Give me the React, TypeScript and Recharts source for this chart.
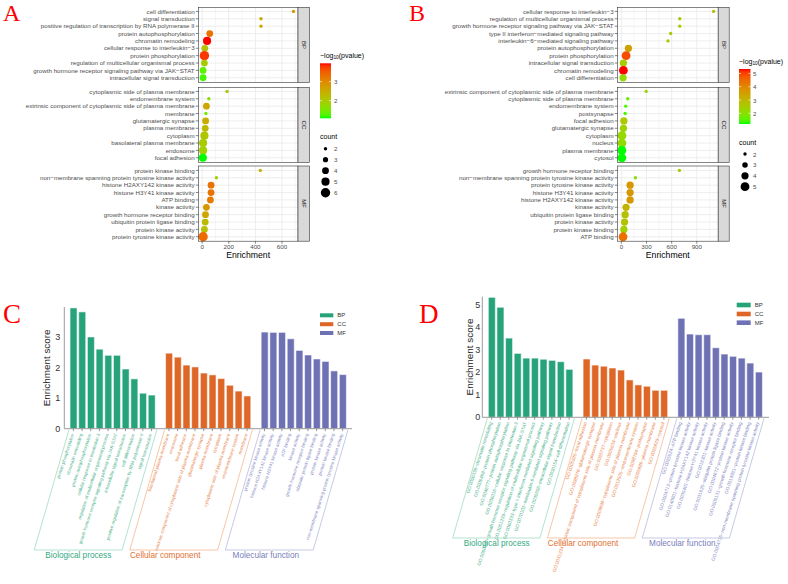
import React from 'react';
import { ScatterChart, Scatter, XAxis, YAxis, CartesianGrid, BarChart, Bar, Cell } from 'recharts';

const SANS = '"Liberation Sans", Arial, Helvetica, sans-serif';
const SERIF = '"Liberation Serif", "Times New Roman", serif';

// ---------------- Panel A: GO dot plot, first gene set ----------------
const aBpTerms = ['cell differentiation', 'signal transduction', 'positive regulation of transcription by RNA polymerase II', 'protein autophosphorylation', 'chromatin remodeling', 'cellular response to interleukin−3', 'protein phosphorylation', 'regulation of multicellular organismal process', 'growth hormone receptor signaling pathway via JAK−STAT', 'intracellular signal transduction'];
const aBpEnrichment = [686, 442, 442, 57, 37, 20, 17, 17, 7, 7];
const aBpLogP = [2.8, 2.5, 2.5, 3.3, 3.97, 2.2, 3.8, 2.0, 1.3, 1.2];
const aBpCount = [2, 2, 2, 4, 5, 4, 6, 4, 4, 4];

const aCcTerms = ['cytoplasmic side of plasma membrane', 'endomembrane system', 'extrinsic component of cytoplasmic side of plasma membrane', 'membrane', 'glutamatergic synapse', 'plasma membrane', 'cytoplasm', 'basolateral plasma membrane', 'endosome', 'focal adhesion'];
const aCcEnrichment = [187, 50, 32, 28, 26, 23, 17, 7, 7, 5];
const aCcLogP = [2.1, 1.6, 2.6, 1.5, 2.5, 2.3, 2.1, 2.0, 1.9, 1.07];
const aCcCount = [2, 2, 4, 2, 4, 4, 5, 5, 5, 5];

const aMfTerms = ['protein kinase binding', 'non−membrane spanning protein tyrosine kinase activity', 'histone H2AXY142 kinase activity', 'histone H3Y41 kinase activity', 'ATP binding', 'kinase activity', 'growth hormone receptor binding', 'ubiquitin protein ligase binding', 'protein kinase activity', 'protein tyrosine kinase activity'];
const aMfEnrichment = [437, 107, 67, 67, 62, 32, 25, 23, 17, 7];
const aMfLogP = [2.4, 1.9, 3.3, 3.3, 3.2, 2.8, 2.6, 2.3, 2.2, 3.4];
const aMfCount = [2, 2, 4, 4, 4, 4, 4, 4, 4, 6];

// ---------------- Panel B: GO dot plot, second gene set ----------------
const bBpTerms = ['cellular response to interleukin−3', 'regulation of multicellular organismal process', 'growth hormone receptor signaling pathway via JAK−STAT', 'type II interferon−mediated signaling pathway', 'interleukin−6−mediated signaling pathway', 'protein autophosphorylation', 'protein phosphorylation', 'intracellular signal transduction', 'chromatin remodeling', 'cell differentiation'];
const bBpEnrichment = [1100, 696, 696, 588, 556, 84, 56, 24, 24, 20];
const bBpLogP = [2.84, 2.63, 2.63, 2.58, 2.53, 3.52, 4.89, 2.47, 5.33, 2.13];
const bBpCount = [2, 2, 2, 2, 2, 4, 5, 4, 5, 4];

const bCcTerms = ['extrinsic component of cytoplasmic side of plasma membrane', 'cytoplasmic side of plasma membrane', 'endomembrane system', 'postsynapse', 'focal adhesion', 'glutamatergic synapse', 'cytoplasm', 'nucleus', 'plasma membrane', 'cytosol'];
const bCcEnrichment = [296, 76, 52, 45, 30, 25, 7, 7, 6, 6];
const bCcLogP = [2.27, 1.66, 1.44, 1.38, 2.59, 2.32, 2.19, 2.1, 1.2, 1.2];
const bCcCount = [2, 2, 2, 2, 4, 4, 5, 5, 5, 5];

const bMfTerms = ['growth hormone receptor binding', 'non−membrane spanning protein tyrosine kinase activity', 'protein tyrosine kinase activity', 'histone H3Y41 kinase activity', 'histone H2AXY142 kinase activity', 'kinase activity', 'ubiquitin protein ligase binding', 'protein kinase activity', 'protein kinase binding', 'ATP binding'];
const bMfEnrichment = [692, 168, 104, 104, 104, 56, 45, 38, 30, 20];
const bMfLogP = [2.63, 2.01, 3.7, 3.67, 3.67, 3.09, 2.81, 2.71, 2.41, 4.4];
const bMfCount = [2, 2, 4, 4, 4, 4, 4, 4, 4, 5];

// ---------------- Panel C: enrichment score bars, first gene set ----------------
const cBpTerms = ['protein phosphorylation', 'chromatin remodeling', 'protein autophosphorylation', 'cellular response to interleukin-3', 'regulation of multicellular organismal process', 'growth hormone receptor signaling pathway via JAK-STAT', 'intracellular signal transduction', 'cell differentiation', 'positive regulation of transcription by RNA polymerase II', 'signal transduction'];
const cBpScores = [3.95, 3.82, 3.0, 2.6, 2.4, 2.4, 1.95, 1.63, 1.16, 1.1];
const cCcTerms = ['basolateral plasma membrane', 'endosome', 'focal adhesion', 'extrinsic component of cytoplasmic side of plasma membrane', 'glutamatergic synapse', 'plasma membrane', 'cytoplasm', 'cytoplasmic side of plasma membrane', 'endomembrane system', 'membrane'];
const cCcScores = [2.47, 2.34, 2.08, 2.02, 1.82, 1.76, 1.64, 1.42, 1.23, 1.07];
const cMfTerms = ['protein tyrosine kinase activity', 'histone H2AXY142 kinase activity', 'histone H3Y41 kinase activity', 'ATP binding', 'kinase activity', 'growth hormone receptor binding', 'ubiquitin protein ligase binding', 'protein kinase activity', 'protein kinase binding', 'non-membrane spanning protein tyrosine kinase activity'];
const cMfScores = [3.16, 3.15, 3.15, 2.94, 2.56, 2.41, 2.28, 2.2, 1.89, 1.77];

// ---------------- Panel D: enrichment score bars, second gene set ----------------
const dBpTerms = ['GO:0006338~chromatin remodeling', 'GO:0006468~protein phosphorylation', 'GO:0046777~protein autophosphorylation', 'GO:0036016~cellular response to interleukin-3', 'GO:0060397~growth hormone receptor signaling pathway via JAK-STAT', 'GO:0051239~regulation of multicellular organismal process', 'GO:0060333~type II interferon-mediated signaling pathway', 'GO:0070102~interleukin-6-mediated signaling pathway', 'GO:0035556~intracellular signal transduction', 'GO:0030154~cell differentiation'];
const dBpScores = [5.33, 4.89, 3.52, 2.84, 2.63, 2.63, 2.58, 2.53, 2.47, 2.13];
const dCcTerms = ['GO:0005925~focal adhesion', 'GO:0098978~glutamatergic synapse', 'GO:0031234~extrinsic component of cytoplasmic side of plasma membrane', 'GO:0005737~cytoplasm', 'GO:0005634~nucleus', 'GO:0009898~cytoplasmic side of plasma membrane', 'GO:0012505~endomembrane system', 'GO:0098794~postsynapse', 'GO:0005886~plasma membrane', 'GO:0005829~cytosol'];
const dCcScores = [2.59, 2.32, 2.27, 2.19, 2.1, 1.66, 1.44, 1.38, 1.2, 1.2];
const dMfTerms = ['GO:0005524~ATP binding', 'GO:0004713~protein tyrosine kinase activity', 'GO:0140801~histone H2AXY142 kinase activity', 'GO:0035401~histone H3Y41 kinase activity', 'GO:0016301~kinase activity', 'GO:0031625~ubiquitin protein ligase binding', 'GO:0004672~protein kinase activity', 'GO:0005131~growth hormone receptor binding', 'GO:0019901~protein kinase binding', 'GO:0004715~non-membrane spanning protein tyrosine kinase activity'];
const dMfScores = [4.4, 3.7, 3.67, 3.67, 3.09, 2.81, 2.71, 2.63, 2.41, 2.01];

const GROUP_KEYS = ['BP', 'CC', 'MF'] as const;
type GroupKey = typeof GROUP_KEYS[number];
const GROUP_FILL: Record<GroupKey, string> = { BP: '#27A37B', CC: '#DE6727', MF: '#6E71B4' };
const GROUP_TEXT: Record<GroupKey, string> = { BP: '#48B18B', CC: '#E8854D', MF: '#8688C4' };
const GROUP_BOX: Record<GroupKey, string> = { BP: '#93D5BC', CC: '#F3AD82', MF: '#AFB1DA' };
const GROUP_TITLE: Record<GroupKey, string> = { BP: '#34A981', CC: '#E2702F', MF: '#7A7DBC' };
const GROUP_NAMES: Record<GroupKey, string> = { BP: 'Biological process', CC: 'Cellular component', MF: 'Molecular function' };

// ---------------- colour scale (green -> red, interpolated in Lab) ----------------
function toLinear(c: number) {
  const v = c / 255;
  return v <= 0.04045 ? v / 12.92 : Math.pow((v + 0.055) / 1.055, 2.4);
}
function fromLinear(v: number) {
  const c = v <= 0.0031308 ? 12.92 * v : 1.055 * Math.pow(Math.max(v, 0), 1 / 2.4) - 0.055;
  return Math.round(Math.min(1, Math.max(0, c)) * 255);
}
const XN = 0.95047, YN = 1, ZN = 1.08883;
const labF = (t: number) => (t > 216 / 24389 ? Math.cbrt(t) : (t * 24389 / 27 + 16) / 116);
const labFInv = (t: number) => (t * t * t > 216 / 24389 ? t * t * t : (116 * t - 16) / (24389 / 27));
function rgbToLab(rgb: number[]) {
  const [r, g, b] = rgb.map(toLinear);
  const X = (0.4124 * r + 0.3576 * g + 0.1805 * b) / XN;
  const Y = (0.2126 * r + 0.7152 * g + 0.0722 * b) / YN;
  const Z = (0.0193 * r + 0.1192 * g + 0.9505 * b) / ZN;
  const fx = labF(X), fy = labF(Y), fz = labF(Z);
  return [116 * fy - 16, 500 * (fx - fy), 200 * (fy - fz)];
}
function labToRgb(lab: number[]) {
  const [L, a, bb] = lab;
  const fy = (L + 16) / 116;
  const X = labFInv(fy + a / 500) * XN, Y = labFInv(fy) * YN, Z = labFInv(fy - bb / 200) * ZN;
  const r = 3.2406 * X - 1.5372 * Y - 0.4986 * Z;
  const g = -0.9689 * X + 1.8758 * Y + 0.0415 * Z;
  const b = 0.0557 * X - 0.204 * Y + 1.057 * Z;
  return `rgb(${fromLinear(r)},${fromLinear(g)},${fromLinear(b)})`;
}
const LAB_LOW = rgbToLab([0, 255, 0]);
const LAB_HIGH = rgbToLab([255, 0, 0]);
function makeColorScale(values: number[]) {
  const lo = Math.min(...values), hi = Math.max(...values);
  const at = (t: number) => labToRgb(LAB_LOW.map((v, i) => v + (LAB_HIGH[i] - v) * Math.min(1, Math.max(0, t))));
  return { lo, hi, at, color: (v: number) => at((v - lo) / (hi - lo)) };
}
function makeSizeScale(counts: number[], rMin: number, rMax: number) {
  const lo = Math.min(...counts), hi = Math.max(...counts);
  const r = (c: number) => rMin + (rMax - rMin) * (Math.sqrt(c) - Math.sqrt(lo)) / (Math.sqrt(hi) - Math.sqrt(lo));
  const levels: number[] = [];
  for (let c = lo; c <= hi; c++) levels.push(c);
  return { r, levels };
}
type ColorScale = ReturnType<typeof makeColorScale>;
type SizeScale = ReturnType<typeof makeSizeScale>;

// ---------------- dot plot facets ----------------
interface DotLayout {
  chartLeft: number; plotLeft: number; plotRight: number; chartWidth: number;
  panelTops: number[]; panelH: number; stripW: number;
  xDomain: [number, number]; majors: number[]; minors: number[];
}
function expandDomain(vals: number[]): [number, number] {
  const lo = Math.min(...vals), hi = Math.max(...vals);
  const pad = (hi - lo) * 0.05;
  return [lo - pad, hi + pad];
}

interface FacetProps {
  terms: string[]; enrichment: number[]; logP: number[]; count: number[];
  top: number; showX: boolean; layout: DotLayout; colors: ColorScale; sizes: SizeScale;
}
function DotFacet({ terms, enrichment, logP, count, top, showX, layout, colors, sizes }: FacetProps) {
  const data = terms.map((t, i) => ({ term: t, row: i, enrichment: enrichment[i], logP: logP[i], count: count[i] }));
  const rows = terms.map((_, i) => i);
  const xAxisH = showX ? 14 : 0;
  const renderRowTick = (p: any) => (
    <text x={p.x} y={p.y} dy="0.35em" textAnchor="end" fontSize={6.2} fill="#4D4D4D" fontFamily={SANS}>
      {terms[p.payload.value]}
    </text>
  );
  return (
    <div style={{ position: 'absolute', left: layout.chartLeft, top }}>
      <ScatterChart
        width={layout.chartWidth}
        height={layout.panelH + xAxisH}
        margin={{ top: 0, right: layout.chartLeft + layout.chartWidth - layout.plotRight, bottom: 0, left: 0 }}
      >
        <CartesianGrid verticalValues={layout.minors} horizontal={false} stroke="#EDEDED" strokeWidth={0.5} />
        <CartesianGrid verticalValues={layout.majors} horizontalValues={rows} stroke="#EBEBEB" strokeWidth={0.9} />
        <XAxis
          type="number"
          dataKey="enrichment"
          domain={layout.xDomain}
          ticks={layout.majors}
          interval={0}
          hide={!showX}
          height={xAxisH}
          axisLine={false}
          tickLine={{ stroke: '#333', strokeWidth: 0.6 }}
          tickSize={2.5}
          tickMargin={1}
          tick={{ fontSize: 6.2, fill: '#4D4D4D', fontFamily: SANS }}
        />
        <YAxis
          type="number"
          dataKey="row"
          domain={[-0.6, terms.length - 0.4]}
          reversed
          ticks={rows}
          interval={0}
          width={layout.plotLeft - layout.chartLeft}
          axisLine={false}
          tickLine={{ stroke: '#333', strokeWidth: 0.6 }}
          tickSize={2.5}
          tickMargin={1.2}
          tick={renderRowTick}
        />
        <Scatter
          data={data}
          isAnimationActive={false}
          shape={(p: any) => (
            <circle cx={p.cx} cy={p.cy} r={sizes.r(p.payload.count)} fill={colors.color(p.payload.logP)} />
          )}
        />
      </ScatterChart>
    </div>
  );
}

const aAllEnrichment = [...aBpEnrichment, ...aCcEnrichment, ...aMfEnrichment];
const bAllEnrichment = [...bBpEnrichment, ...bCcEnrichment, ...bMfEnrichment];

const layoutA: DotLayout = {
  chartLeft: 0, plotLeft: 198.3, plotRight: 298, chartWidth: 300,
  panelTops: [7.3, 87.3, 166], panelH: 75.2, stripW: 11.5,
  xDomain: expandDomain(aAllEnrichment), majors: [0, 200, 400, 600], minors: [100, 300, 500, 700],
};
const layoutB: DotLayout = {
  chartLeft: 394, plotLeft: 617.3, plotRight: 718.2, chartWidth: 330,
  panelTops: [7.3, 87.3, 166], panelH: 75.2, stripW: 11,
  xDomain: expandDomain(bAllEnrichment), majors: [0, 300, 600, 900], minors: [150, 450, 750, 1050],
};

const colorsA = makeColorScale([...aBpLogP, ...aCcLogP, ...aMfLogP]);
const colorsB = makeColorScale([...bBpLogP, ...bCcLogP, ...bMfLogP]);
const sizesA = makeSizeScale([...aBpCount, ...aCcCount, ...aMfCount], 1.7, 4.7);
const sizesB = makeSizeScale([...bBpCount, ...bCcCount, ...bMfCount], 1.7, 4.4);

interface LegendGeo {
  x: number; titleY: number; barY: number; barH: number; barW: number; labelX: number;
  countTitleY: number; dotX: number; dotY0: number; dotStep: number; id: string;
}
const legendA: LegendGeo = { x: 320, titleY: 57.5, barY: 63.3, barH: 55, barW: 11, labelX: 334, countTitleY: 139, dotX: 325.5, dotY0: 148.7, dotStep: 11, id: 'gradA' };
const legendB: LegendGeo = { x: 739, titleY: 63.5, barY: 69, barH: 55, barW: 11.5, labelX: 753, countTitleY: 144.5, dotX: 745, dotY0: 154, dotStep: 10.9, id: 'gradB' };

function DotDecor({ layout, colors, sizes, lg }: { layout: DotLayout; colors: ColorScale; sizes: SizeScale; lg: LegendGeo }) {
  const strips = ['BP', 'CC', 'MF'];
  const stops = Array.from({ length: 21 }, (_, i) => i / 20);
  const tickVals: number[] = [];
  for (let v = Math.ceil(colors.lo); v <= Math.floor(colors.hi); v++) tickVals.push(v);
  const yOf = (v: number) => lg.barY + lg.barH - ((v - colors.lo) / (colors.hi - colors.lo)) * lg.barH;
  const pw = layout.plotRight - layout.plotLeft;
  return (
    <g fontFamily={SANS}>
      <defs>
        <linearGradient id={lg.id} x1="0" y1="1" x2="0" y2="0">
          {stops.map((t) => <stop key={t} offset={t} stopColor={colors.at(t)} />)}
        </linearGradient>
      </defs>
      {layout.panelTops.map((t, i) => (
        <g key={i}>
          <rect x={layout.plotLeft} y={t} width={pw} height={layout.panelH} fill="none" stroke="#333" strokeWidth={0.6} />
          <rect x={layout.plotRight} y={t} width={layout.stripW} height={layout.panelH} fill="#D9D9D9" stroke="#333" strokeWidth={0.6} />
          <text
            x={layout.plotRight + layout.stripW / 2}
            y={t + layout.panelH / 2}
            transform={`rotate(90 ${layout.plotRight + layout.stripW / 2} ${t + layout.panelH / 2})`}
            textAnchor="middle"
            dominantBaseline="central"
            fontSize={6}
            fill="#1A1A1A"
          >
            {strips[i]}
          </text>
        </g>
      ))}
      <text x={layout.plotLeft + pw / 2} y={258} textAnchor="middle" fontSize={8.7} fill="#000">Enrichment</text>
      {/* colour legend */}
      <text x={lg.x} y={lg.titleY} fontSize={7} fill="#000">
        <tspan>−log</tspan>
        <tspan fontSize={4.8} dy={1.6}>10</tspan>
        <tspan dy={-1.6}>(pvalue)</tspan>
      </text>
      <rect x={lg.x} y={lg.barY} width={lg.barW} height={lg.barH} fill={`url(#${lg.id})`} />
      {tickVals.map((v) => (
        <g key={v}>
          <line x1={lg.x} x2={lg.x + 2.2} y1={yOf(v)} y2={yOf(v)} stroke="#fff" strokeWidth={0.6} />
          <line x1={lg.x + lg.barW - 2.2} x2={lg.x + lg.barW} y1={yOf(v)} y2={yOf(v)} stroke="#fff" strokeWidth={0.6} />
          <text x={lg.labelX} y={yOf(v)} dominantBaseline="central" fontSize={6.2} fill="#4D4D4D">{v}</text>
        </g>
      ))}
      {/* size legend */}
      <text x={lg.x} y={lg.countTitleY} fontSize={7} fill="#000">count</text>
      {sizes.levels.map((c, i) => (
        <g key={c}>
          <circle cx={lg.dotX} cy={lg.dotY0 + i * lg.dotStep} r={sizes.r(c)} fill="#000" />
          <text x={lg.labelX} y={lg.dotY0 + i * lg.dotStep} dominantBaseline="central" fontSize={6.2} fill="#4D4D4D">{c}</text>
        </g>
      ))}
    </g>
  );
}

// ---------------- bar panels ----------------
interface BarRow { name: string; score: number | null; group: GroupKey | null }
function buildBarRows(groups: { terms: string[]; scores: number[] }[]): BarRow[] {
  const rows: BarRow[] = [];
  groups.forEach((g, gi) => {
    if (gi > 0) rows.push({ name: `gap-${gi}`, score: null, group: null });
    g.terms.forEach((t, i) => rows.push({ name: t, score: g.scores[i], group: GROUP_KEYS[gi] }));
  });
  return rows;
}
const cRows = buildBarRows([
  { terms: cBpTerms, scores: cBpScores },
  { terms: cCcTerms, scores: cCcScores },
  { terms: cMfTerms, scores: cMfScores },
]);
const dRows = buildBarRows([
  { terms: dBpTerms, scores: dBpScores },
  { terms: dCcTerms, scores: dCcScores },
  { terms: dMfTerms, scores: dMfScores },
]);

interface BarLayout {
  left: number; top: number; width: number; height: number;
  marginTop: number; marginRight: number; yAxisWidth: number; plotH: number;
  padL: number; padR: number; yMax: number; yTicks: number[]; yTickMargin: number;
  labelSize: number; angle: number; boxBottom: number; titleY: number; titleX: number[];
  legendX: number; legendY: number[]; legendW: number; legendH: number;
  yTitleX: number;
}
const layoutC: BarLayout = {
  left: 0, top: 300, width: 360, height: 284, marginTop: 7, marginRight: 8, yAxisWidth: 64.3, plotH: 121.7,
  padL: 4.7, padR: 5, yMax: 3.98, yTicks: [0, 1, 2, 3], yTickMargin: 4,
  labelSize: 4.5, angle: -72, boxBottom: 550, titleY: 558.3, titleX: [78.3, 165.2, 265.8],
  legendX: 320, legendY: [315.3, 324.2, 333], legendW: 13.3, legendH: 4, yTitleX: 46.7,
};
const layoutD: BarLayout = {
  left: 394, top: 290, width: 394, height: 294, marginTop: 6.7, marginRight: 19, yAxisWidth: 88.3, plotH: 120.6,
  padL: 5, padR: 6, yMax: 5.36, yTicks: [0, 1, 2, 3, 4, 5], yTickMargin: 2,
  labelSize: 4.7, angle: -72, boxBottom: 538, titleY: 546, titleX: [496.7, 583, 682.3],
  legendX: 736.7, legendY: [305, 314, 322.7], legendW: 14, legendH: 4.6, yTitleX: 469,
};

function BarPanel({ rows, lay }: { rows: BarRow[]; lay: BarLayout }) {
  const axisY = lay.marginTop + lay.plotH;
  const xAxisH = lay.height - axisY;
  const renderTick = (p: any) => {
    const row = rows.find((r) => r.name === p.payload.value);
    if (!row || !row.group) return <g />;
    const x = p.x;
    const tx = x - 0.8;
    const ty = axisY + 5;
    return (
      <g>
        <line x1={x} x2={x} y1={axisY} y2={axisY + 2.5} stroke="#555" strokeWidth={0.6} />
        <text
          x={tx}
          y={ty}
          transform={`rotate(${lay.angle} ${tx} ${ty})`}
          textAnchor="end"
          dominantBaseline="central"
          fontSize={lay.labelSize}
          fill={GROUP_TEXT[row.group]}
          fontFamily={SANS}
        >
          {row.name}
        </text>
      </g>
    );
  };
  return (
    <div style={{ position: 'absolute', left: lay.left, top: lay.top }}>
      <BarChart
        width={lay.width}
        height={lay.height}
        data={rows}
        margin={{ top: lay.marginTop, right: lay.marginRight, bottom: 0, left: 0 }}
        barCategoryGap="12%"
      >
        <XAxis
          dataKey="name"
          type="category"
          interval={0}
          height={xAxisH}
          padding={{ left: lay.padL, right: lay.padR }}
          axisLine={{ stroke: '#9C9C9C', strokeWidth: 1 }}
          tickLine={false}
          tick={renderTick}
        />
        <YAxis
          type="number"
          domain={[0, lay.yMax]}
          ticks={lay.yTicks}
          interval={0}
          width={lay.yAxisWidth}
          axisLine={{ stroke: '#9C9C9C', strokeWidth: 1 }}
          tickLine={false}
          tickSize={0}
          tickMargin={lay.yTickMargin}
          tick={{ fontSize: 9, fill: '#333', fontFamily: SANS }}
        />
        <Bar dataKey="score" isAnimationActive={false} stroke="#ffffff" strokeOpacity={0.6} strokeWidth={0.9}>
          {rows.map((r, i) => (
            <Cell key={i} fill={r.group ? GROUP_FILL[r.group] : 'none'} />
          ))}
        </Bar>
      </BarChart>
    </div>
  );
}

function BarDecor({ rows, lay }: { rows: BarRow[]; lay: BarLayout }) {
  const plotLeft = lay.left + lay.yAxisWidth;
  const plotRight = lay.left + lay.width - lay.marginRight;
  const axisY = lay.top + lay.marginTop + lay.plotH;
  const band = (plotRight - plotLeft - lay.padL - lay.padR) / rows.length;
  const dx = (lay.boxBottom - axisY) / Math.tan((Math.abs(lay.angle) + 2) * Math.PI / 180);
  const plotMid = lay.top + lay.marginTop + lay.plotH / 2;
  return (
    <g fontFamily={SANS}>
      {GROUP_KEYS.map((g, gi) => {
        const first = rows.findIndex((r) => r.group === g);
        const last = first + rows.filter((r) => r.group === g).length;
        const x0 = plotLeft + lay.padL + first * band;
        const x1 = plotLeft + lay.padL + last * band + 1;
        const pts = `${x0},${axisY + 1} ${x0 - dx},${lay.boxBottom} ${x1 - dx},${lay.boxBottom} ${x1},${axisY + 1}`;
        return (
          <g key={g}>
            <polyline points={pts} fill="none" stroke={GROUP_BOX[g]} strokeWidth={0.7} />
            <text x={lay.titleX[gi]} y={lay.titleY} textAnchor="middle" fontSize={8.2} fill={GROUP_TITLE[g]}>
              {GROUP_NAMES[g]}
            </text>
          </g>
        );
      })}
      <text
        x={lay.yTitleX}
        y={plotMid}
        transform={`rotate(-90 ${lay.yTitleX} ${plotMid})`}
        textAnchor="middle"
        dominantBaseline="central"
        fontSize={9.9}
        fill="#222"
      >
        Enrichment score
      </text>
      {GROUP_KEYS.map((g, i) => (
        <g key={g}>
          <rect x={lay.legendX} y={lay.legendY[i] - lay.legendH / 2} width={lay.legendW} height={lay.legendH} fill={GROUP_FILL[g]} />
          <text x={lay.legendX + lay.legendW + 4} y={lay.legendY[i]} dominantBaseline="central" fontSize={6} fill="#333">{g}</text>
        </g>
      ))}
    </g>
  );
}

export default function App() {
  return (
    <div style={{ position: 'absolute', left: 0, top: 0, width: 788, height: 584, background: '#fff', overflow: 'hidden', fontFamily: SANS }}>
      <DotFacet terms={aBpTerms} enrichment={aBpEnrichment} logP={aBpLogP} count={aBpCount} top={layoutA.panelTops[0]} showX={false} layout={layoutA} colors={colorsA} sizes={sizesA} />
      <DotFacet terms={aCcTerms} enrichment={aCcEnrichment} logP={aCcLogP} count={aCcCount} top={layoutA.panelTops[1]} showX={false} layout={layoutA} colors={colorsA} sizes={sizesA} />
      <DotFacet terms={aMfTerms} enrichment={aMfEnrichment} logP={aMfLogP} count={aMfCount} top={layoutA.panelTops[2]} showX layout={layoutA} colors={colorsA} sizes={sizesA} />
      <DotFacet terms={bBpTerms} enrichment={bBpEnrichment} logP={bBpLogP} count={bBpCount} top={layoutB.panelTops[0]} showX={false} layout={layoutB} colors={colorsB} sizes={sizesB} />
      <DotFacet terms={bCcTerms} enrichment={bCcEnrichment} logP={bCcLogP} count={bCcCount} top={layoutB.panelTops[1]} showX={false} layout={layoutB} colors={colorsB} sizes={sizesB} />
      <DotFacet terms={bMfTerms} enrichment={bMfEnrichment} logP={bMfLogP} count={bMfCount} top={layoutB.panelTops[2]} showX layout={layoutB} colors={colorsB} sizes={sizesB} />
      <BarPanel rows={cRows} lay={layoutC} />
      <BarPanel rows={dRows} lay={layoutD} />
      <svg width={788} height={584} style={{ position: 'absolute', left: 0, top: 0, pointerEvents: 'none' }}>
        <DotDecor layout={layoutA} colors={colorsA} sizes={sizesA} lg={legendA} />
        <DotDecor layout={layoutB} colors={colorsB} sizes={sizesB} lg={legendB} />
        <BarDecor rows={cRows} lay={layoutC} />
        <BarDecor rows={dRows} lay={layoutD} />
        <g fontFamily={SERIF} fill="#FF0000">
          <text x={3} y={20.5} fontSize={24}>A</text>
          <text x={409} y={20.5} fontSize={24}>B</text>
          <text x={3} y={322.5} fontSize={27}>C</text>
          <text x={419} y={323.3} fontSize={27}>D</text>
        </g>
      </svg>
    </div>
  );
}
